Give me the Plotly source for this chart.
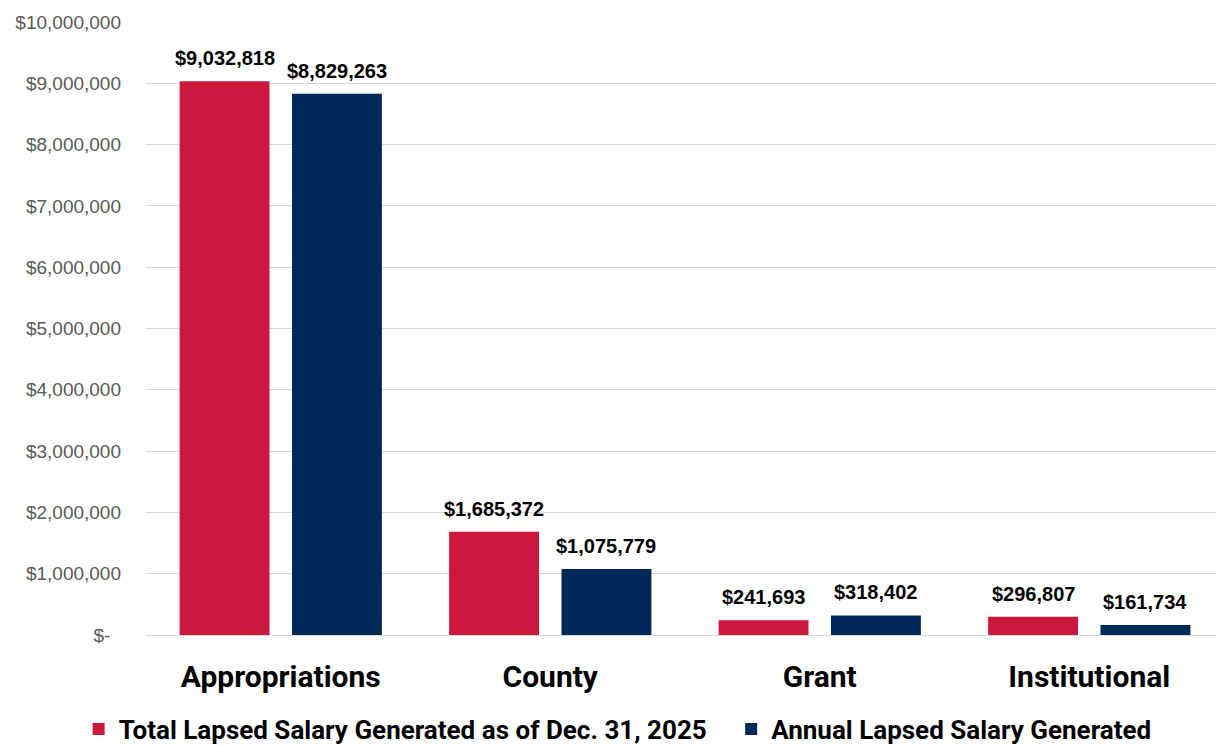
import plotly.graph_objects as go

categories = ["Appropriations", "County", "Grant", "Institutional"]
total_lapsed = [9032818, 1685372, 241693, 296807]
annual_lapsed = [8829263, 1075779, 318402, 161734]
series_names = ["Total Lapsed Salary Generated as of Dec. 31, 2025",
                "Annual Lapsed Salary Generated"]
tick_values = [0, 1000000, 2000000, 3000000, 4000000, 5000000,
               6000000, 7000000, 8000000, 9000000, 10000000]
tick_labels = ["$-\u00a0\u00a0"] + ["${:,}".format(v) for v in tick_values[1:]]

RED = "#CC183E"
NAVY = "#00295A"

# page body adds an 8px offset, so the figure is 8px smaller each way
W, H = 1216, 737
ML, MR, MT, MB = 138, 0, 14, 110
BARGAP = 0.166
LEGEND_PAD = "\u00a0\u00a0\u00a0"

fig = go.Figure()
fig.add_trace(go.Bar(x=categories, y=total_lapsed, name=series_names[0] + LEGEND_PAD,
                     marker=dict(color=RED, line=dict(width=0))))
fig.add_trace(go.Bar(x=categories, y=annual_lapsed, name=series_names[1],
                     marker=dict(color=NAVY, line=dict(width=0))))

cat_w = (W - ML - MR) / len(categories)
offset = cat_w * (1 - BARGAP) / 4
for vals, sign in ((total_lapsed, -1), (annual_lapsed, 1)):
    for c, v in zip(categories, vals):
        fig.add_annotation(x=c, y=v, xref="x", yref="y",
                           text="<b>${:,}</b>".format(v), showarrow=False,
                           xanchor="center", yanchor="bottom",
                           xshift=sign * offset, yshift=10,
                           font=dict(family="Liberation Sans, Arial", size=20, color="#000000"))

fig.update_layout(
    width=W, height=H,
    margin=dict(l=ML, r=MR, t=MT, b=MB, autoexpand=False),
    paper_bgcolor="white", plot_bgcolor="white",
    barmode="group", bargap=BARGAP, bargroupgap=0.2,
    showlegend=True,
    legend=dict(orientation="h", x=0.4375, xanchor="center", y=-0.115, yanchor="top",
                font=dict(family="Roboto", size=26, color="#000000", weight="bold"),
                traceorder="normal"),
    xaxis=dict(showgrid=False, showline=False, ticks="", ticklabelstandoff=21,
               tickfont=dict(family="Roboto", size=30, color="#000000", weight="bold")),
    yaxis=dict(range=[0, 10000000], tickvals=tick_values, ticktext=tick_labels,
               showgrid=True, gridcolor="#D9D9D9", gridwidth=1,
               zeroline=True, zerolinecolor="#D9D9D9", zerolinewidth=1,
               showline=False, ticks="", ticklabelstandoff=24,
               tickfont=dict(family="Liberation Sans, Arial", size=19, color="#595959")),
)

fig.write_html("out.html")
